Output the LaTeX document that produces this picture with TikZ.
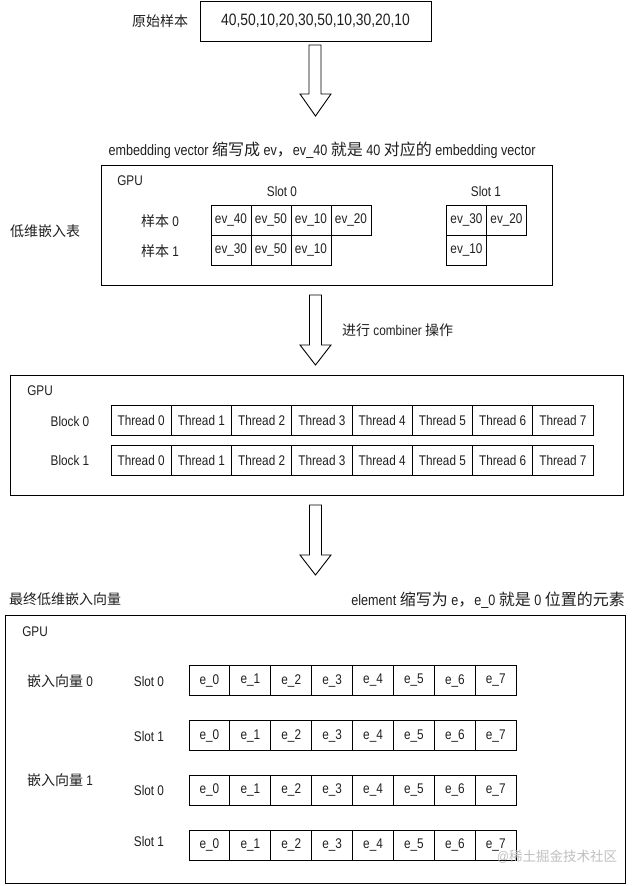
\documentclass[tikz,border=0pt]{standalone}
\usepackage{fontspec}
\setmainfont{Liberation Sans}[FakeStretch=0.84]
\newfontfamily\cjk{Noto Sans CJK SC}
\newcommand{\zhbig}[1]{{\cjk\fontsize{16}{18}\selectfont #1}}
\begin{document}
\begin{tikzpicture}[x=1pt,y=-1pt,
  every node/.style={font=\fontsize{14}{16}\selectfont, text=black!88, inner sep=0pt},
  frame/.style={draw, line width=0.9pt},
  cell/.style={draw, line width=0.9pt, minimum width=40pt, minimum height=30pt},
  tcell/.style={draw, line width=0.9pt, minimum width=60.25pt, minimum height=30pt},
  ecell/.style={draw, line width=0.9pt, minimum width=40.9pt, minimum height=30pt},
  blockarrow/.style={draw, line width=0.9pt, fill=white},
  captext/.style={font=\fontsize{15}{18}\selectfont},
  wmtext/.style={text=black!25}]
\useasboundingbox (0,0) rectangle (637,886);

% top
\node[frame, minimum width=231pt, minimum height=40pt, font=\fontsize{16.5}{18}\selectfont] (src) at (315.5,21) {40,50,10,20,30,50,10,30,20,10};
\node (srclab) at (160,21) {\cjk 原始样本};
\draw[blockarrow] (309,45) -- (321,45) -- (321,94) -- (331,94) -- (315.5,116) -- (300,94) -- (309,94) -- cycle;

% embedding table
\node[captext] (cap1) at (322,150) {embedding vector \zhbig{缩写成} ev\zhbig{，}ev\_40 \zhbig{就是} 40 \zhbig{对应的} embedding vector};
\node[frame, minimum width=451pt, minimum height=119.5pt] (gpu1) at (327,225.5) {};
\node (gpu1lab) at (130,181) {GPU};
\node (tablab) at (45,231) {\cjk 低维嵌入表};
\node (s0) at (282,191) {Slot 0};
\node (s1) at (486,191) {Slot 1};
\node (r0) at (160,221) {{\cjk 样本} 0};
\node (r1) at (160,251) {{\cjk 样本} 1};
\node[cell] (a1) at (231,220) {ev\_40};
\node[cell] (a2) at (271,220) {ev\_50};
\node[cell] (a3) at (311,220) {ev\_10};
\node[cell] (a4) at (351,220) {ev\_20};
\node[cell] (b1) at (231,250) {ev\_30};
\node[cell] (b2) at (271,250) {ev\_50};
\node[cell] (b3) at (311,250) {ev\_10};
\node[cell] (c1) at (466.5,220) {ev\_30};
\node[cell] (c2) at (506.5,220) {ev\_20};
\node[cell] (d1) at (466.5,250) {ev\_10};

\draw[blockarrow] (309.5,295) -- (321.5,295) -- (321.5,345) -- (331,345) -- (315.5,365) -- (300,345) -- (309.5,345) -- cycle;
\node[anchor=west] (comb) at (342,330) {{\cjk 进行} combiner {\cjk 操作}};

% threads
\node[frame, minimum width=613pt, minimum height=120.5pt] (gpu2) at (316.5,435.3) {};
\node (gpu2lab) at (40,391) {GPU};
\node (blk0) at (70,421) {Block 0};
\node (blk1) at (70,460.5) {Block 1};
\foreach \i in {0,...,7}{
  \node[tcell] (t0\i) at ({141.1+60.25*\i},420.3) {Thread \i};
  \node[tcell] (t1\i) at ({141.1+60.25*\i},460.3) {Thread \i};
}
\draw[blockarrow] (309.5,505) -- (321.5,505) -- (321.5,555) -- (331,555) -- (315.5,575) -- (300,555) -- (309.5,555) -- cycle;

% final
\node[anchor=west] (finlab) at (9,599) {\cjk 最终低维嵌入向量};
\node[captext, anchor=east] (elab) at (625,600) {element \zhbig{缩写为} e\zhbig{，}e\_0 \zhbig{就是} 0 \zhbig{位置的元素}};
\node[frame, minimum width=620.5pt, minimum height=268pt] (gpu3) at (315.5,749.5) {};
\node (gpu3lab) at (35,631.5) {GPU};
\node (v0) at (60,681) {{\cjk 嵌入向量} 0};
\node (v1) at (60,780) {{\cjk 嵌入向量} 1};
\node (l0) at (149,681) {Slot 0};
\node (l1) at (149,736) {Slot 1};
\node (l2) at (149,790.5) {Slot 0};
\node (l3) at (149,841) {Slot 1};
\foreach \r/\y in {0/680.5,1/735.7,2/790.3,3/845}{
  \foreach \i in {0,...,7}{
    \node[ecell] (e\r\i) at ({209.45+40.9*\i},\y) {e\_\i};
  }
}
\node[wmtext, anchor=west] (wm) at (497,856.5) {@{\cjk\fontsize{13.5}{15}\selectfont 稀土掘金技术社区}};
\end{tikzpicture}
\end{document}
